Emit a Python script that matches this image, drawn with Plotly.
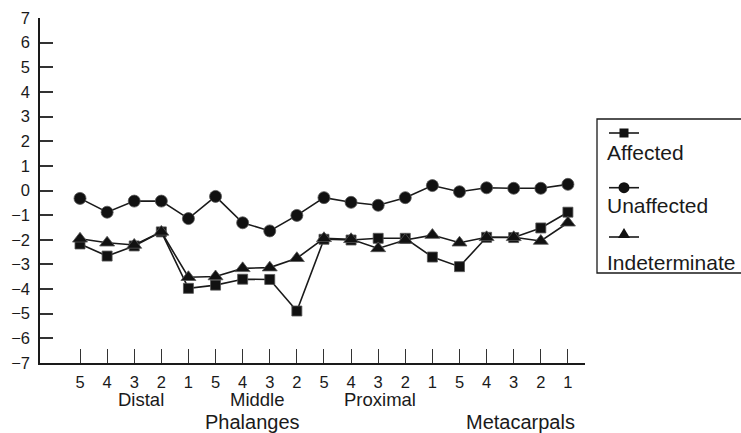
import plotly.graph_objects as go

# ---- data ----
digit_labels = ["5", "4", "3", "2", "1", "5", "4", "3", "2", "5", "4", "3", "2", "1",
                "5", "4", "3", "2", "1"]
positions = list(range(len(digit_labels)))
sub_groups = ["Distal", "Middle", "Proximal"]
sub_group_pos = [2.25, 6.55, 11.05]
main_groups = ["Phalanges", "Metacarpals"]
main_group_pos = [6.35, 16.25]

affected = [-2.17, -2.66, -2.25, -1.68, -3.97, -3.84, -3.60, -3.61, -4.89,
            -1.98, -2.01, -1.94, -1.94, -2.70, -3.09, -1.90, -1.91, -1.52, -0.88]
unaffected = [-0.32, -0.88, -0.43, -0.43, -1.14, -0.24, -1.31, -1.64, -1.01,
              -0.29, -0.48, -0.60, -0.29, 0.20, -0.05, 0.11, 0.09, 0.09, 0.25]
indeterminate = [-1.96, -2.12, -2.21, -1.68, -3.52, -3.49, -3.16, -3.13, -2.75,
                 -1.94, -1.98, -2.35, -2.01, -1.81, -2.12, -1.90, -1.90, -2.05, -1.31]
series_names = ["Affected", "Unaffected", "Indeterminate"]
y_ticks = list(range(-7, 8))

# ---- layout geometry (pixels) ----
W, H = 741, 433
ML, MR, MT, MB = 40, 156, 18, 70
PW, PH = W - ML - MR, H - MT - MB
INK = "#1a1a1a"
FONT = "Liberation Sans, Arial, Helvetica, sans-serif"


def px(x):
    return (x - ML) / PW


def py(y):
    return (H - MB - y) / PH


fig = go.Figure()
styles = [("square", 10), ("circle", 12), ("triangle-up", 13)]
for name, vals, (sym, sz) in zip(series_names, [affected, unaffected, indeterminate], styles):
    fig.add_trace(go.Scatter(
        x=positions, y=vals, name=name, mode="lines+markers",
        line=dict(color=INK, width=1.6),
        marker=dict(symbol=sym, size=sz, color="#111111",
                    line=dict(color="#555555", width=0.8)),
        showlegend=False,
    ))

annotations = []
for lab, xp in zip(sub_groups, sub_group_pos):
    annotations.append(dict(x=xp, xref="x", y=py(400), yref="paper", text=lab,
                            showarrow=False, xanchor="center", yanchor="middle",
                            font=dict(size=18.5, color=INK, family=FONT)))
for lab, xp in zip(main_groups, main_group_pos):
    annotations.append(dict(x=xp, xref="x", y=py(422), yref="paper", text=lab,
                            showarrow=False, xanchor="center", yanchor="middle",
                            font=dict(size=20, color=INK, family=FONT)))

# ---- manual legend (symbol above text) ----
shapes = [dict(type="rect", xref="paper", yref="paper",
               x0=px(597), x1=px(820), y0=py(273), y1=py(119),
               line=dict(color=INK, width=1.3), fillcolor="rgba(0,0,0,0)")]
leg_sym_y = [133, 187.7, 237]
leg_txt_y = [152.7, 205, 262.5]
cx = 624
for name, sy, ty, (sym, sz) in zip(series_names, leg_sym_y, leg_txt_y, styles):
    shapes.append(dict(type="line", xref="paper", yref="paper",
                       x0=px(609), x1=px(639), y0=py(sy), y1=py(sy),
                       line=dict(color=INK, width=1.6)))
    if sym == "square":
        h = 4.5
        shapes.append(dict(type="rect", xref="paper", yref="paper",
                           x0=px(cx - h), x1=px(cx + h), y0=py(sy + h), y1=py(sy - h),
                           fillcolor="#111111", line=dict(width=0)))
    elif sym == "circle":
        r = 5.5
        shapes.append(dict(type="circle", xref="paper", yref="paper",
                           x0=px(cx - r), x1=px(cx + r), y0=py(sy + r), y1=py(sy - r),
                           fillcolor="#111111", line=dict(width=0)))
    else:
        path = "M {:.5f} {:.5f} L {:.5f} {:.5f} L {:.5f} {:.5f} Z".format(
            px(cx - 6), py(sy + 1), px(cx + 6), py(sy + 1), px(cx), py(sy - 9))
        shapes.append(dict(type="path", xref="paper", yref="paper", path=path,
                           fillcolor="#111111", line=dict(width=0)))
    annotations.append(dict(x=px(605), xref="paper", y=py(ty), yref="paper", text=name,
                            showarrow=False, xanchor="left", yanchor="middle",
                            font=dict(size=21, color=INK, family=FONT)))

fig.update_layout(
    width=W, height=H,
    margin=dict(l=ML, r=MR, t=MT, b=MB, autoexpand=False),
    paper_bgcolor="white", plot_bgcolor="white",
    font=dict(family=FONT, color=INK),
    xaxis=dict(range=[-1.476, 18.63], tickvals=positions, ticktext=digit_labels,
               ticks="inside", ticklen=14, tickwidth=1.2, tickcolor="#333333",
               showline=True, linecolor=INK, linewidth=1.5,
               showgrid=False, zeroline=False, automargin=False,
               ticklabelstandoff=3,
               tickfont=dict(size=16.5, color=INK, family=FONT), fixedrange=True),
    yaxis=dict(range=[-7, 7], tickvals=y_ticks,
               ticktext=[("\u2212" + str(-v)) if v < 0 else str(v) for v in y_ticks],
               ticks="inside", ticklen=13, tickwidth=1.5, tickcolor="#333333",
               showline=True, linecolor=INK, linewidth=1.5,
               showgrid=False, zeroline=False, automargin=False,
               ticklabelstandoff=5,
               tickfont=dict(size=16.5, color=INK, family=FONT), fixedrange=True),
    shapes=shapes,
    annotations=annotations,
    showlegend=False,
)

fig.write_html("out.html", config={"displayModeBar": False},
               post_script="document.body.style.margin='0';document.body.style.padding='0';")
